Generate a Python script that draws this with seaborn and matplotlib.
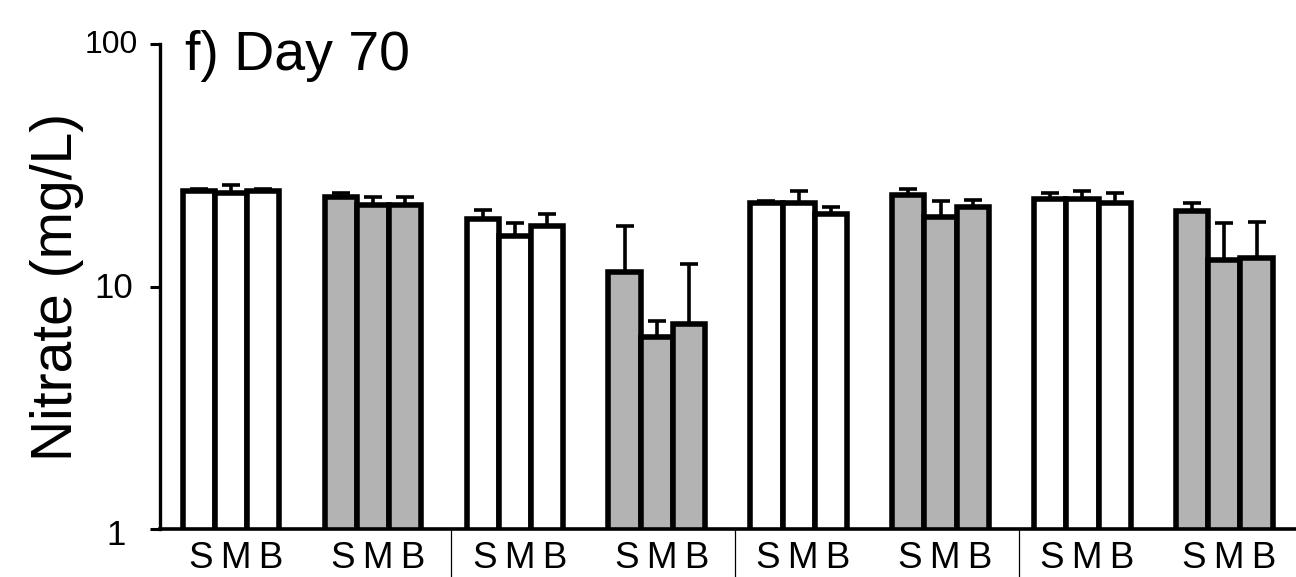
import numpy as np
import pandas as pd
import matplotlib
matplotlib.use("Agg")
import matplotlib.pyplot as plt
import matplotlib.transforms as mtransforms
import seaborn as sns

# ---- data ----
groups = ["1", "2", "3", "4", "5", "6", "7", "8"]
treatments = ["S", "M", "B"]
group_tick_label = "S\u2009M\u2009B"
group_filled = [False, True, False, True, False, True, False, True]

mean_S = [24.8, 23.3, 19.0, 11.45, 22.1, 23.8, 22.9, 20.4]
mean_M = [24.2, 21.7, 16.2, 6.18, 22.1, 19.4, 22.9, 12.9]
mean_B = [24.8, 21.7, 17.8, 6.98, 20.0, 21.2, 22.1, 13.1]
err_S = [0.4, 0.9, 1.7, 6.35, 0.4, 1.4, 1.3, 1.6]
err_M = [2.0, 1.6, 2.0, 1.06, 2.6, 3.1, 1.8, 5.3]
err_B = [0.4, 1.6, 2.2, 5.4, 1.2, 1.5, 2.1, 5.4]
separators_after = [1, 3, 5]  # separators drawn after these group indices

yticks = [1, 10, 100]
ytick_labels = ["1", "10", "100"]

means = {"S": mean_S, "M": mean_M, "B": mean_B}
errs = {"S": err_S, "M": err_M, "B": err_B}

df = pd.DataFrame(
    [(g, t, means[t][i]) for t in treatments for i, g in enumerate(groups)],
    columns=["group", "treatment", "value"],
)

# ---- style ----
sns.set_style("white")
plt.rcParams["font.family"] = ["Liberation Sans", "DejaVu Sans"]
plt.rcParams["text.color"] = "black"
plt.rcParams["axes.labelcolor"] = "black"
plt.rcParams["xtick.color"] = "black"
plt.rcParams["ytick.color"] = "black"

fig = plt.figure(figsize=(12.96, 5.77), dpi=100)
ax = fig.add_axes([0.1235, 0.0832, 0.876, 0.8405])
ax.set_yscale("log")

sns.barplot(
    data=df, x="group", y="value", hue="treatment",
    order=groups, hue_order=treatments,
    width=0.68, gap=0, dodge=True, errorbar=None, legend=False,
    edgecolor="black", linewidth=4.0, ax=ax, zorder=2,
)

fill_open = "white"
fill_gray = "#b3b3b3"
for t, cont in zip(treatments, ax.containers):
    xs, ys = [], []
    for i, bar in enumerate(cont):
        bar.set_facecolor(fill_gray if group_filled[i] else fill_open)
        bar.set_edgecolor("black")
        xs.append(bar.get_x() + bar.get_width() / 2)
        ys.append(bar.get_height())
    e = np.array(errs[t])
    ax.errorbar(xs, ys, yerr=[np.zeros_like(e), e], fmt="none",
                ecolor="black", elinewidth=2.6, capsize=6.5, capthick=2.6,
                zorder=1)

ax.set_ylim(1, 100)
ax.set_xlim(-0.5, len(groups) - 0.5)
ax.set_yticks(yticks)
ax.set_yticklabels(ytick_labels)
ax.yaxis.set_minor_locator(matplotlib.ticker.NullLocator())
ax.tick_params(axis="y", which="major", direction="out", length=7.2, width=2.2,
               pad=9, left=True, labelsize=25, colors="black")
ytl = ax.get_yticklabels()
ytl[2].set_fontsize(23)
ax.set_xticks(range(len(groups)))
ax.set_xticklabels([group_tick_label] * len(groups))
ax.tick_params(axis="x", length=0, pad=9, labelsize=26.5, colors="black")

# per-label nudges (pixels) to match the reference
for lab, dx, dy in zip(ytl, [-12, -4, 0], [-3, 2, 3]):
    lab.set_transform(lab.get_transform() +
                      mtransforms.ScaledTranslation(dx / 100, dy / 100, fig.dpi_scale_trans))
for lab in ax.get_xticklabels():
    lab.set_transform(lab.get_transform() +
                      mtransforms.ScaledTranslation(5 / 100, 0, fig.dpi_scale_trans))

for side in ["top", "right"]:
    ax.spines[side].set_visible(False)
ax.spines["left"].set_linewidth(2.4)
ax.spines["bottom"].set_linewidth(2.6)
ax.spines["left"].set_color("black")
ax.spines["bottom"].set_color("black")

ax.set_xlabel("")
ax.set_ylabel("Nitrate (mg/L)", fontsize=41, color="black")
ax.yaxis.set_label_coords(-0.067, 0.499)

trans = mtransforms.blended_transform_factory(ax.transData, ax.transAxes)
for gi in separators_after:
    ax.plot([gi + 0.55, gi + 0.55], [0, -0.1], transform=trans, color="black",
            lw=0.9, clip_on=False)

fig.text(185 / 1296, 0.8787, "f) Day 70", fontsize=40, va="baseline", ha="left",
         color="black")

fig.savefig("out.png", dpi=100)
